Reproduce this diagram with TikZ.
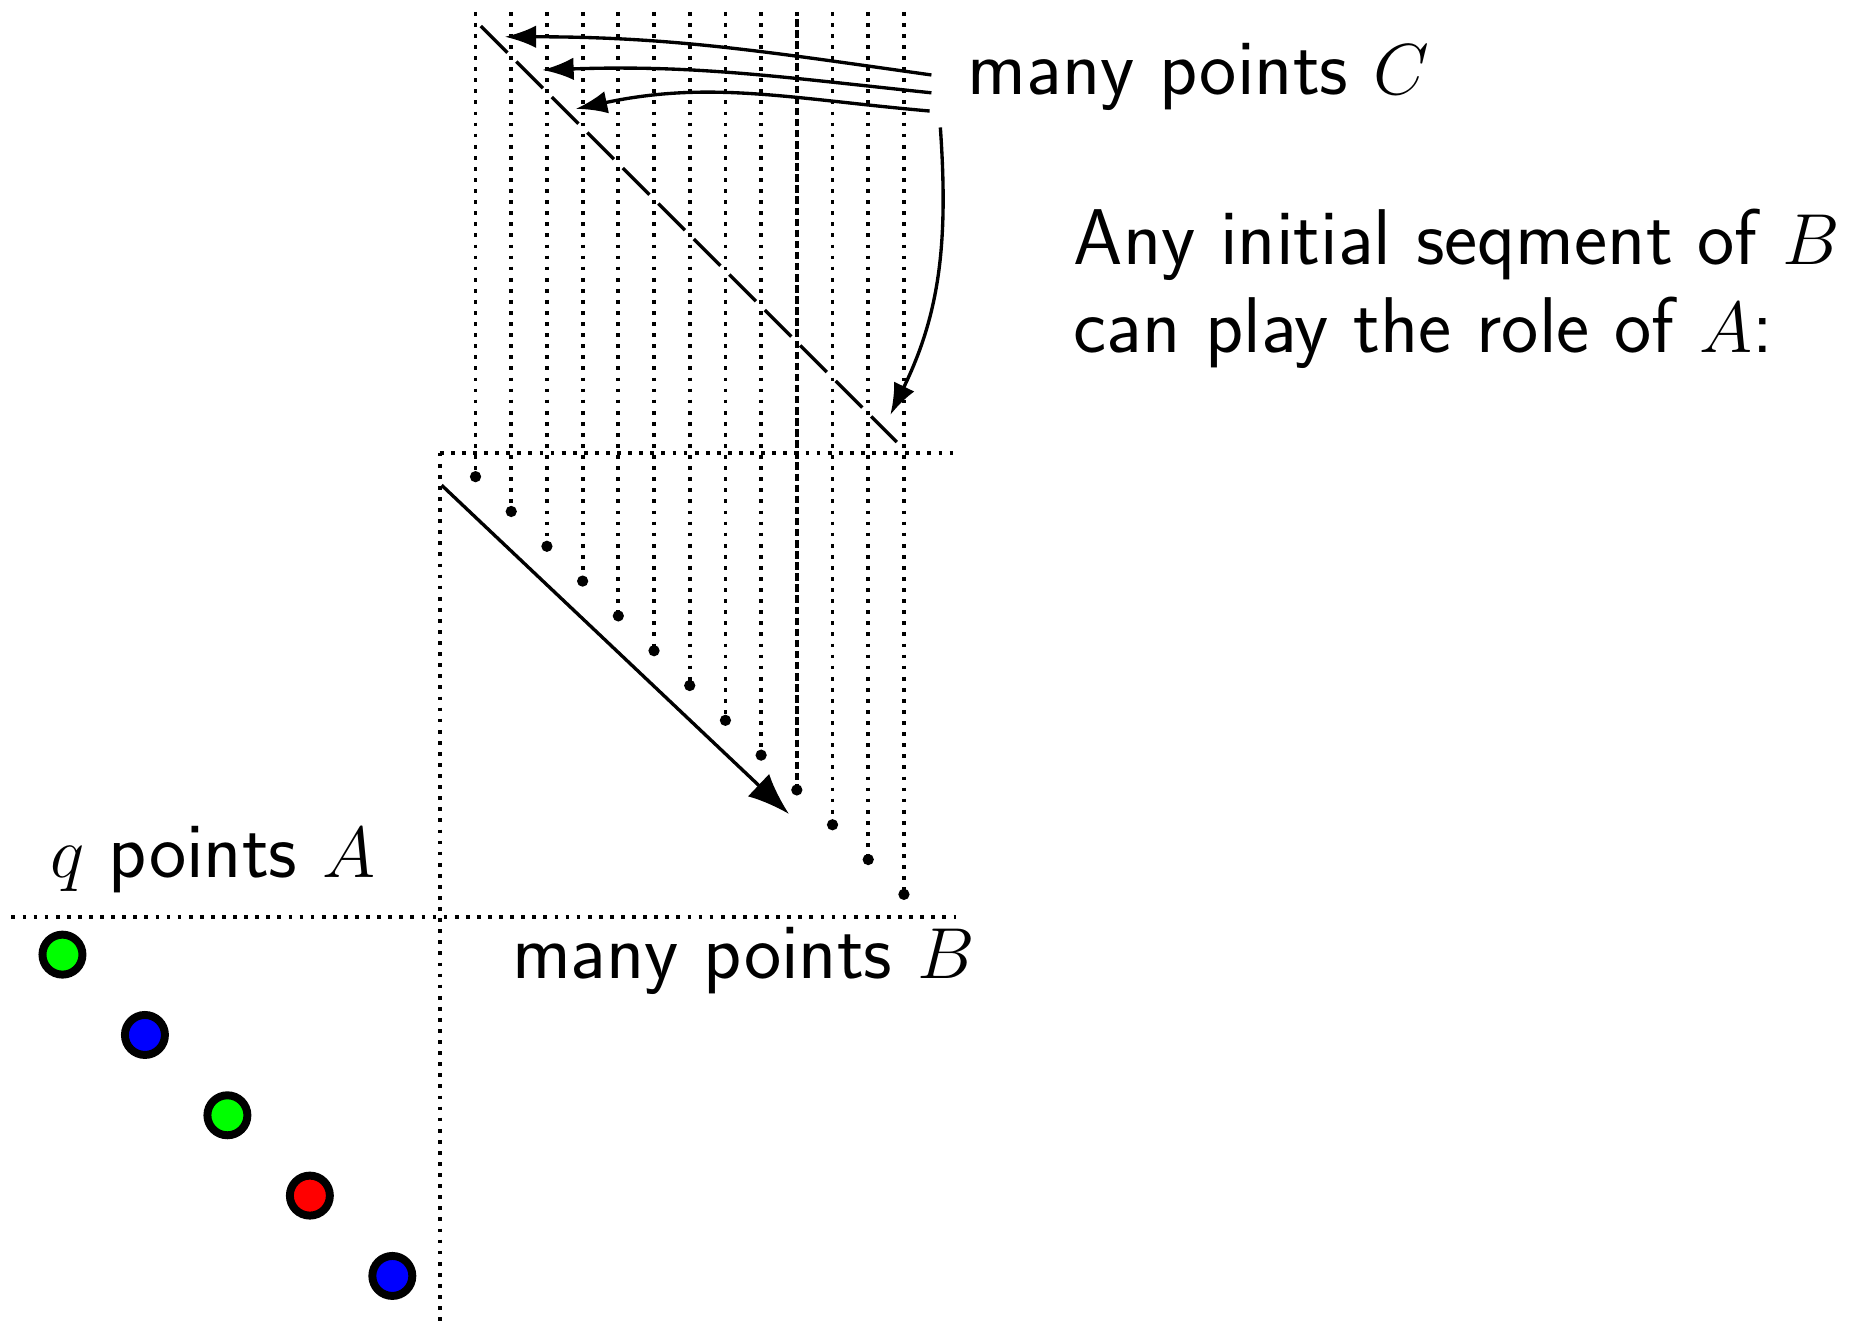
\documentclass[tikz,border=0pt]{standalone}
\usepackage{xcolor}
\usepackage{tikz}
\usetikzlibrary{arrows.meta, positioning}
\tikzset{
    gridline/.style={dash pattern=on 0.9pt off 1.75pt, line width=0.9pt},
    diagline/.style={dash pattern=on 9pt off 3pt, line width=0.8pt},
    bpoint/.style={circle, fill=black, inner sep=0pt, minimum size=2.7pt},
    apoint/.style={circle, draw=black, line width=1.9pt, inner sep=0pt, minimum size=0.336cm},
    textlabel/.style={inner sep=0pt, font=\fontsize{18.9}{21.1}\selectfont\sffamily},
    pointer/.style={-{Latex[length=7.5pt, width=5.4pt]}, line width=0.8pt},
    mainarrow/.style={-{Latex[length=10pt, width=7.4pt]}, line width=0.8pt}
}
\begin{document}
\begin{tikzpicture}[x=0.3cm, y=0.3cm]
        \useasboundingbox (-12.32,-24.74) rectangle (39.64,12.68);

        % Axes
        \draw [gridline] (0,0) -- (14.45,0);
        \draw [gridline] (-12,-13) -- (14.45,-13);
        \draw [gridline] (0,0) -- (0,-24.49);

        % Points B with their columns
        \foreach \i in {1,...,13} {
            \node [bpoint] (b\i) at (\i, {-0.672-0.975*(\i-1)}) {};
            \coordinate (t\i) at (\i, 12.35);
            \draw [gridline] (t\i) -- (b\i.center);
        }
        \draw [gridline, dash phase=0.9pt] (t10) -- (b10.center);

        % Points A
        \foreach \c [count=\i from 0] in {green, blue, green, red, blue}
            \node [apoint, fill=\c] (a\i) at ({-10.57+2.31*\i}, {-14.06-2.25*\i}) {};

        % Labels
        \node [textlabel, anchor=base west] (labA) at (-10.94,-11.91) {$q$ points $A$};
        \node [textlabel, anchor=base west] (labB) at (2.0,-14.73) {many points $B$};
        \node [textlabel, anchor=base west] (labC) at (14.77,10.03) {many points $C$};
        \node [textlabel, anchor=north west, align=left] (claim) at (17.73,6.85) {Any initial seqment of $B$\\can play the role of $A$:};

        % Segment of C
        \coordinate (d0) at (1.15,11.95);
        \coordinate (d1) at (12.8,0.3);
        \draw [diagline] (d0) -- (d1);

        % Paths
        \coordinate (s1) at (13.77,10.58);
        \coordinate (s2) at (13.77,10.08);
        \coordinate (s3) at (13.72,9.57);
        \coordinate (s4) at (14.02,9.11);
        \coordinate (c1) at (1.82,11.65);
        \coordinate (c2) at (2.87,10.72);
        \coordinate (c3) at (3.81,9.63);
        \coordinate (c4) at (12.62,1.06);
        \draw [pointer] (s1) to[out=172, in=0] (c1);
        \draw [pointer] (s2) to[out=174, in=2] (c2);
        \draw [pointer] (s3) to[out=175, in=12] (c3);
        \draw [pointer] (s4) to[out=-86, in=64] (c4);

        \coordinate (m0) at (0.05,-0.91);
        \coordinate (m1) at (9.78,-10.12);
        \draw [mainarrow] (m0) -- (m1);

    \end{tikzpicture}
\end{document}
